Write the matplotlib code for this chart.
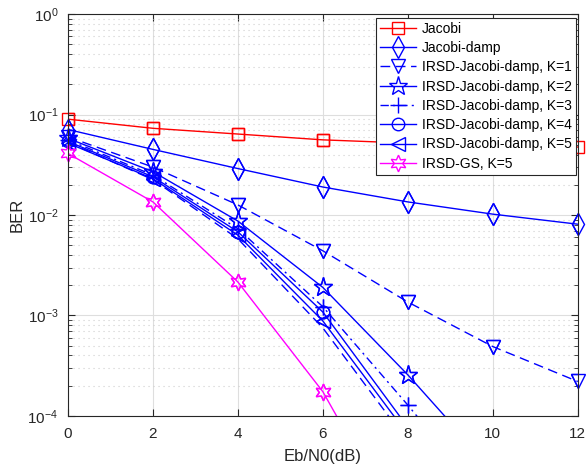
import numpy as np
import matplotlib.pyplot as plt
from matplotlib.ticker import LogLocator, NullFormatter

plt.rcParams['font.family'] = ['Liberation Sans', 'DejaVu Sans']

# Eb/N0 points and BER curves
snr = [0, 2, 4, 6, 8, 10, 12]
berJacobi = [0.090, 0.073, 0.064, 0.056, 0.052, 0.050, 0.0475]
berDamp = [0.071, 0.045, 0.029, 0.019, 0.0135, 0.0102, 0.0081]
berK1 = [0.060, 0.030, 0.0126, 0.0044, 0.00136, 0.00049, 0.00022]
berK2 = [0.058, 0.027, 0.0087, 0.0019, 0.000256, 2.9e-5, 3e-6]
berK3 = [0.056, 0.025, 0.0073, 0.00122, 0.000128, 1.2e-5, 1e-6]
berK4 = [0.054, 0.024, 0.0068, 0.00108, 7.7e-5, 6e-6, 5e-7]
berK5 = [0.052, 0.023, 0.0063, 0.00088, 6.5e-5, 5e-6, 4e-7]
berExtra = [0.053, 0.0225, 0.0058, 0.00075, 5.5e-5, 4e-6, 3e-7]
berGS = [0.041, 0.0135, 0.00215, 0.000174, 5.5e-6, 2e-7, 1e-8]

fig = plt.figure(figsize=(5.86, 4.71), dpi=100)
ax = fig.add_axes([0.116, 0.117, 0.870, 0.853])

blue = (0, 0, 1)
ymin = 1e-4


def curve(y, style, color, marker, ms, label, dashes=None):
    kw = dict(markerfacecolor='none', markeredgewidth=1.0, linewidth=1.0)
    if dashes is not None:
        kw['dashes'] = dashes
    ax.semilogy(snr, y, style, color=color, marker=marker, markersize=ms, label=label, **kw)
    # markers on the axes edge are not cut off in the original
    x = np.array(snr)
    y = np.array(y)
    keep = y >= ymin
    ax.semilogy(x[keep], y[keep], linestyle='none', color=color, marker=marker, markersize=ms,
                markerfacecolor='none', markeredgewidth=1.0, clip_on=False)


curve(berJacobi, '-', 'red', 's', 9, 'Jacobi')
curve(berDamp, '-', blue, 'd', 11, 'Jacobi-damp')
curve(berK1, '--', blue, 'v', 10, 'IRSD-Jacobi-damp, K=1', dashes=(7, 4))
curve(berK2, '-', blue, '*', 14, 'IRSD-Jacobi-damp, K=2')
curve(berK3, '-.', blue, '+', 12, 'IRSD-Jacobi-damp, K=3', dashes=(6, 3, 1.5, 3))
curve(berK4, '-', blue, 'o', 9, 'IRSD-Jacobi-damp, K=4')
curve(berK5, '-', blue, '<', 10, 'IRSD-Jacobi-damp, K=5')
ax.semilogy(snr, berExtra, '--', color=blue, dashes=(7, 4), linewidth=1.0, label='_nolegend_')
curve(berGS, '-', (1, 0, 1), (6, 1, 0), 12, 'IRSD-GS, K=5')

ax.set_xlim(0, 12)
ax.set_ylim(ymin, 1)
ax.set_xticks([0, 2, 4, 6, 8, 10, 12])
ax.yaxis.set_minor_locator(LogLocator(base=10, subs=np.arange(2, 10), numticks=20))
ax.yaxis.set_minor_formatter(NullFormatter())
ax.grid(True, which='major', color='#dedede', linestyle='-', linewidth=0.8)
ax.grid(True, which='minor', axis='y', color='#cfcfcf', linestyle=(0, (1, 3.5)), linewidth=0.8)
ax.set_axisbelow(True)
ax.tick_params(which='both', direction='in', top=True, right=True, labelsize=11, colors='#262626')
ax.tick_params(which='major', length=5)
ax.tick_params(which='minor', length=3)
ax.tick_params(axis='x', pad=8)
ax.tick_params(axis='y', pad=7)
for s in ax.spines.values():
    s.set_color('#262626')
ax.set_xlabel('Eb/N0(dB)', fontsize=12, color='#262626', labelpad=6)
ax.set_ylabel('BER', fontsize=12, color='#262626', labelpad=2)

leg = ax.legend(loc='upper right', fontsize=10, fancybox=False, framealpha=1,
                edgecolor='#262626', borderaxespad=0.25, handlelength=2.6,
                labelspacing=0.38, borderpad=0.3, handletextpad=0.4,
                bbox_to_anchor=(1.003, 1.0))
leg.get_frame().set_linewidth(0.8)
leg.set_zorder(5)

fig.savefig('out.png', dpi=100)
